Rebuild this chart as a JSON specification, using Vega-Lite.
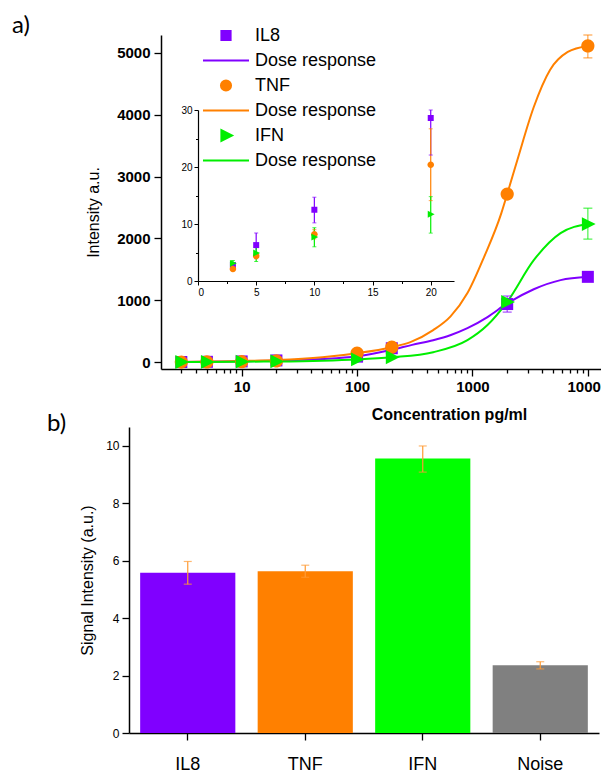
{
  "$schema": "https://vega.github.io/schema/vega-lite/v6.json",
  "padding": {"left": 12, "top": 14, "right": 0, "bottom": 0},
  "bounds": "flush",
  "spacing": 58,
  "config": {
    "view": {"stroke": null},
    "font": "Liberation Sans",
    "axis": {"domainColor": "black", "tickColor": "black", "labelColor": "black", "titleColor": "black", "grid": false, "domainWidth": 1.5, "tickWidth": 1.3, "labelFont": "Liberation Sans", "titleFont": "Liberation Sans"}
  },
  "datasets": {
    "curve": [
      {"conc": 3, "key": "Dose response ", "val": 5}, {"conc": 5, "key": "Dose response ", "val": 8}, {"conc": 10, "key": "Dose response ", "val": 14}, {"conc": 20, "key": "Dose response ", "val": 25}, {"conc": 50, "key": "Dose response ", "val": 50}, {"conc": 100, "key": "Dose response ", "val": 95}, {"conc": 200, "key": "Dose response ", "val": 200}, {"conc": 300, "key": "Dose response ", "val": 280}, {"conc": 457, "key": "Dose response ", "val": 356}, {"conc": 650, "key": "Dose response ", "val": 440}, {"conc": 905, "key": "Dose response ", "val": 550}, {"conc": 1350, "key": "Dose response ", "val": 730}, {"conc": 2000, "key": "Dose response ", "val": 950}, {"conc": 3400, "key": "Dose response ", "val": 1180}, {"conc": 5800, "key": "Dose response ", "val": 1327}, {"conc": 10000, "key": "Dose response ", "val": 1380},
      {"conc": 3, "key": "Dose response  ", "val": 5}, {"conc": 5, "key": "Dose response  ", "val": 10}, {"conc": 10, "key": "Dose response  ", "val": 20}, {"conc": 20, "key": "Dose response  ", "val": 35}, {"conc": 50, "key": "Dose response  ", "val": 80}, {"conc": 100, "key": "Dose response  ", "val": 146}, {"conc": 200, "key": "Dose response  ", "val": 243}, {"conc": 290, "key": "Dose response  ", "val": 324}, {"conc": 457, "key": "Dose response  ", "val": 518}, {"conc": 646, "key": "Dose response  ", "val": 740}, {"conc": 905, "key": "Dose response  ", "val": 1117}, {"conc": 1260, "key": "Dose response  ", "val": 1700}, {"conc": 1780, "key": "Dose response  ", "val": 2410}, {"conc": 2000, "key": "Dose response  ", "val": 2718}, {"conc": 2450, "key": "Dose response  ", "val": 3270}, {"conc": 3400, "key": "Dose response  ", "val": 4126}, {"conc": 4700, "key": "Dose response  ", "val": 4725}, {"conc": 6700, "key": "Dose response  ", "val": 5016}, {"conc": 10000, "key": "Dose response  ", "val": 5113},
      {"conc": 3, "key": "Dose response   ", "val": 3}, {"conc": 5, "key": "Dose response   ", "val": 5}, {"conc": 10, "key": "Dose response   ", "val": 8}, {"conc": 20, "key": "Dose response   ", "val": 12}, {"conc": 50, "key": "Dose response   ", "val": 25}, {"conc": 100, "key": "Dose response   ", "val": 45}, {"conc": 200, "key": "Dose response   ", "val": 80}, {"conc": 457, "key": "Dose response   ", "val": 162}, {"conc": 905, "key": "Dose response   ", "val": 356}, {"conc": 1350, "key": "Dose response   ", "val": 600}, {"conc": 2000, "key": "Dose response   ", "val": 975}, {"conc": 3400, "key": "Dose response   ", "val": 1650}, {"conc": 5800, "key": "Dose response   ", "val": 2087}, {"conc": 10000, "key": "Dose response   ", "val": 2233}
    ],
    "main": [
      {"conc": 3, "key": "IL8", "val": 2.8}, {"conc": 5, "key": "IL8", "val": 6.3}, {"conc": 10, "key": "IL8", "val": 12.5}, {"conc": 20, "key": "IL8", "val": 28.6}, {"conc": 100, "key": "IL8", "val": 90}, {"conc": 200, "key": "IL8", "val": 226}, {"conc": 2000, "key": "IL8", "val": 940, "lo": 810, "hi": 1070}, {"conc": 10000, "key": "IL8", "val": 1380, "lo": 1330, "hi": 1430},
      {"conc": 3, "key": "TNF", "val": 2.1}, {"conc": 5, "key": "TNF", "val": 4.4}, {"conc": 10, "key": "TNF", "val": 8.2}, {"conc": 20, "key": "TNF", "val": 20.4}, {"conc": 100, "key": "TNF", "val": 146}, {"conc": 200, "key": "TNF", "val": 243}, {"conc": 2000, "key": "TNF", "val": 2718}, {"conc": 10000, "key": "TNF", "val": 5113, "lo": 4920, "hi": 5290},
      {"conc": 3, "key": "IFN", "val": 3.1}, {"conc": 5, "key": "IFN", "val": 4.9}, {"conc": 10, "key": "IFN", "val": 7.7}, {"conc": 20, "key": "IFN", "val": 11.7}, {"conc": 100, "key": "IFN", "val": 45}, {"conc": 200, "key": "IFN", "val": 80}, {"conc": 2000, "key": "IFN", "val": 975}, {"conc": 10000, "key": "IFN", "val": 2233, "lo": 1990, "hi": 2490}
    ],
    "inset": [
      {"conc": 3, "key": "IL8", "val": 2.8, "lo": 2.4, "hi": 3.2}, {"conc": 5, "key": "IL8", "val": 6.3, "lo": 4.3, "hi": 8.4}, {"conc": 10, "key": "IL8", "val": 12.5, "lo": 10.2, "hi": 14.7}, {"conc": 20, "key": "IL8", "val": 28.6, "lo": 22.1, "hi": 30},
      {"conc": 3, "key": "TNF", "val": 2.1, "lo": 1.8, "hi": 2.4}, {"conc": 5, "key": "TNF", "val": 4.4, "lo": 3.9, "hi": 4.9}, {"conc": 10, "key": "TNF", "val": 8.2, "lo": 7.4, "hi": 9.0}, {"conc": 20, "key": "TNF", "val": 20.4, "lo": 14.1, "hi": 26.7},
      {"conc": 3, "key": "IFN", "val": 3.1, "lo": 2.6, "hi": 3.6}, {"conc": 5, "key": "IFN", "val": 4.9, "lo": 3.4, "hi": 6.6}, {"conc": 10, "key": "IFN", "val": 7.7, "lo": 6.0, "hi": 9.35}, {"conc": 20, "key": "IFN", "val": 11.7, "lo": 8.4, "hi": 14.8}
    ],
    "bars": [
      {"cat": "IL8", "val": 5.58, "lo": 5.18, "hi": 5.97},
      {"cat": "TNF", "val": 5.63, "lo": 5.42, "hi": 5.84},
      {"cat": "IFN", "val": 9.55, "lo": 9.08, "hi": 9.99},
      {"cat": "Noise", "val": 2.36, "lo": 2.23, "hi": 2.48}
    ]
  },
  "vconcat": [
    {
      "width": 472,
      "height": 334,
      "title": {"text": "a)", "anchor": "start", "frame": "group", "orient": "top", "offset": 0, "dx": -117, "dy": 23, "baseline": "alphabetic", "font": "Lato", "fontSize": 24, "fontWeight": "normal", "color": "black"},
      "resolve": {"scale": {"x": "independent", "y": "independent"}, "axis": {"x": "independent", "y": "independent"}},
      "layer": [
        {
          "layer": [
            {
              "data": {"name": "curve"},
              "mark": {"type": "line", "strokeWidth": 2, "interpolate": "monotone"},
              "encoding": {
                "x": {"field": "conc", "type": "quantitative",
                  "scale": {"type": "log", "domain": [2, 13000], "range": [32, 472], "nice": false},
                  "axis": {"title": "Concentration pg/ml", "titleFontSize": 16, "titleFontWeight": "bold", "titleX": 320, "titleAlign": "center", "titlePadding": 12,
                    "values": [3,4,5,6,7,8,9,10,20,30,40,50,60,70,80,90,100,200,300,400,500,600,700,800,900,1000,2000,3000,4000,5000,6000,7000,8000,9000,10000],
                    "format": "d", "labelOverlap": false,
                    "labelExpr": "(datum.value == 10 || datum.value == 100 || datum.value == 1000 || datum.value == 10000) ? datum.label : ''",
                    "tickSize": {"condition": {"test": "datum.value == 10 || datum.value == 100 || datum.value == 1000 || datum.value == 10000", "value": 7}, "value": 4},
                    "labelFontSize": 15, "labelFontWeight": "bold", "labelPadding": 3}},
                "y": {"field": "val", "type": "quantitative",
                  "scale": {"domain": [-110, 5290], "nice": false, "zero": false},
                  "axis": {"title": "Intensity a.u.", "titleFontSize": 16, "titleFontWeight": "normal", "titlePadding": 15, "titleY": 177,
                    "offset": -32,
                    "values": [0,500,1000,1500,2000,2500,3000,3500,4000,4500,5000],
                    "format": "d", "labelOverlap": false,
                    "labelExpr": "datum.value % 1000 == 0 ? datum.label : ''",
                    "tickSize": {"condition": {"test": "datum.value % 1000 == 0", "value": 7}, "value": 4},
                    "labelFontSize": 15, "labelFontWeight": "bold", "labelPadding": 4}},
                "color": {"field": "key", "type": "nominal",
                  "scale": {"domain": ["IL8", "Dose response ", "TNF", "Dose response  ", "IFN", "Dose response   "],
                    "range": ["#8000ff", "#8000ff", "#ff8000", "#ff8000", "#00ee00", "#00ee00"]}}
              }
            },
            {
              "data": {"name": "main"},
              "transform": [{"filter": "isValid(datum.lo)"}],
              "layer": [
                {"mark": {"type": "rule", "strokeWidth": 1.2, "opacity": 0.7},
                 "encoding": {"x": {"field": "conc", "type": "quantitative"}, "y": {"field": "lo", "type": "quantitative"}, "y2": {"field": "hi"}, "color": {"field": "key", "type": "nominal"}}},
                {"mark": {"type": "tick", "orient": "horizontal", "size": 9, "thickness": 1.2, "opacity": 0.7},
                 "encoding": {"x": {"field": "conc", "type": "quantitative"}, "y": {"field": "lo", "type": "quantitative"}, "color": {"field": "key", "type": "nominal"}}},
                {"mark": {"type": "tick", "orient": "horizontal", "size": 9, "thickness": 1.2, "opacity": 0.7},
                 "encoding": {"x": {"field": "conc", "type": "quantitative"}, "y": {"field": "hi", "type": "quantitative"}, "color": {"field": "key", "type": "nominal"}}}
              ]
            },
            {
              "data": {"name": "main"},
              "mark": {"type": "point", "filled": true, "opacity": 1, "size": 900},
              "encoding": {
                "x": {"field": "conc", "type": "quantitative"},
                "y": {"field": "val", "type": "quantitative"},
                "color": {"field": "key", "type": "nominal",
                  "legend": {"orient": "none", "legendX": 84.5, "legendY": -12, "title": null, "padding": 0,
                    "symbolSize": 529, "symbolStrokeWidth": 2, "symbolOffset": 0, "symbolOpacity": 1,
                    "labelFontSize": 18, "labelFont": "Liberation Sans", "labelColor": "black", "labelOffset": 16.5, "rowPadding": 3,
                    "encode": {
                      "labels": {
                        "fontWeight": {"condition": {"test": "indexof(datum.value,'Dose')>=0", "value": "normal"}, "value": "bold"}}
                    }}},
                "shape": {"field": "key", "type": "nominal",
                  "scale": {"domain": ["IL8", "Dose response ", "TNF", "Dose response  ", "IFN", "Dose response   "],
                    "range": ["M-0.4,-0.4H0.4V0.4H-0.4Z", "M-2,0H2", "M0.44,0A0.44,0.44 0 1,1 -0.44,0A0.44,0.44 0 1,1 0.44,0Z", "M-2,0H2", "M-0.4,-0.46L0.52,0L-0.4,0.46Z", "M-2,0H2"]},
                  "legend": {"orient": "none", "legendX": 84.5, "legendY": -12, "title": null, "padding": 0,
                    "symbolSize": 529, "symbolStrokeWidth": 2, "symbolOffset": 0, "symbolOpacity": 1,
                    "labelFontSize": 18, "labelFont": "Liberation Sans", "labelColor": "black", "labelOffset": 16.5, "rowPadding": 3,
                    "encode": {
                      "labels": {
                        "fontWeight": {"condition": {"test": "indexof(datum.value,'Dose')>=0", "value": "normal"}, "value": "bold"}}
                    }}}
              }
            }
          ]
        },
        {
          "data": {"name": "inset"},
          "layer": [
            {"mark": {"type": "rule", "strokeWidth": 1.2},
             "encoding": {
               "x": {"field": "conc", "type": "quantitative",
                 "scale": {"domain": [0, 22], "range": [69, 325], "nice": false},
                 "axis": {"orient": "bottom", "offset": -88, "title": null,
                   "values": [0, 2.5, 5, 7.5, 10, 12.5, 15, 17.5, 20], "labelOverlap": false,
                   "labelExpr": "datum.value % 5 == 0 ? datum.label : ''",
                   "tickSize": {"condition": {"test": "datum.value % 5 == 0", "value": 4}, "value": 2.5},
                   "labelFontSize": 10, "labelPadding": 2, "domainWidth": 1.2, "tickWidth": 1}},
               "y": {"field": "lo", "type": "quantitative",
                 "scale": {"domain": [0, 30], "range": [246, 75], "nice": false},
                 "axis": {"orient": "left", "offset": -69, "title": null,
                   "values": [0, 5, 10, 15, 20, 25, 30], "labelOverlap": false,
                   "labelExpr": "datum.value % 10 == 0 ? datum.label : ''",
                   "tickSize": {"condition": {"test": "datum.value % 10 == 0", "value": 4}, "value": 2.5},
                   "labelFontSize": 10, "labelPadding": 2, "domainWidth": 1.2, "tickWidth": 1}},
               "y2": {"field": "hi"},
               "color": {"field": "key", "type": "nominal"}}},
            {"mark": {"type": "tick", "orient": "horizontal", "size": 4, "thickness": 1},
             "encoding": {"x": {"field": "conc", "type": "quantitative"}, "y": {"field": "lo", "type": "quantitative"}, "color": {"field": "key", "type": "nominal"}}},
            {"mark": {"type": "tick", "orient": "horizontal", "size": 4, "thickness": 1},
             "encoding": {"x": {"field": "conc", "type": "quantitative"}, "y": {"field": "hi", "type": "quantitative"}, "color": {"field": "key", "type": "nominal"}}},
            {"mark": {"type": "point", "filled": true, "opacity": 1, "size": 225},
             "encoding": {"x": {"field": "conc", "type": "quantitative"}, "y": {"field": "val", "type": "quantitative"}, "color": {"field": "key", "type": "nominal"}, "shape": {"field": "key", "type": "nominal"}}}
          ]
        }
      ]
    },
    {
      "width": 470,
      "height": 306,
      "title": {"text": "b)", "anchor": "start", "frame": "group", "orient": "top", "offset": 0, "dx": -82, "dy": 28, "baseline": "alphabetic", "font": "Lato", "fontSize": 24, "fontWeight": "normal", "color": "black"},
      "data": {"name": "bars"},
      "encoding": {
        "x": {"field": "cat", "type": "nominal", "sort": null,
          "scale": {"paddingInner": 0.19, "paddingOuter": 0.095},
          "axis": {"title": null, "labelAngle": 0, "labelFontSize": 18, "labelPadding": 15, "tickSize": 7}}
      },
      "layer": [
        {"mark": {"type": "bar"},
         "encoding": {
           "y": {"field": "val", "type": "quantitative",
             "scale": {"domain": [0, 10.65], "nice": false},
             "axis": {"title": "Signal Intensity (a.u.)", "titleFontSize": 16, "titleFontWeight": "normal", "titlePadding": 10,
               "values": [0,1,2,3,4,5,6,7,8,9,10], "labelOverlap": false,
               "labelExpr": "datum.value % 2 == 0 ? datum.label : ''",
               "tickSize": {"condition": {"test": "datum.value % 2 == 0", "value": 7}, "value": 4},
               "labelFontSize": 12, "labelPadding": 3}},
           "fill": {"field": "cat", "type": "nominal",
             "scale": {"domain": ["IL8", "TNF", "IFN", "Noise"], "range": ["#8000ff", "#ff8000", "#00ff00", "#808080"]},
             "legend": null}}},
        {"mark": {"type": "rule", "color": "#ff9a33", "strokeWidth": 1.2},
         "encoding": {"y": {"field": "lo", "type": "quantitative"}, "y2": {"field": "hi"}}},
        {"mark": {"type": "tick", "orient": "horizontal", "color": "#ff9a33", "size": 8, "thickness": 1.2},
         "encoding": {"y": {"field": "lo", "type": "quantitative"}}},
        {"mark": {"type": "tick", "orient": "horizontal", "color": "#ff9a33", "size": 8, "thickness": 1.2},
         "encoding": {"y": {"field": "hi", "type": "quantitative"}}}
      ]
    }
  ]
}
